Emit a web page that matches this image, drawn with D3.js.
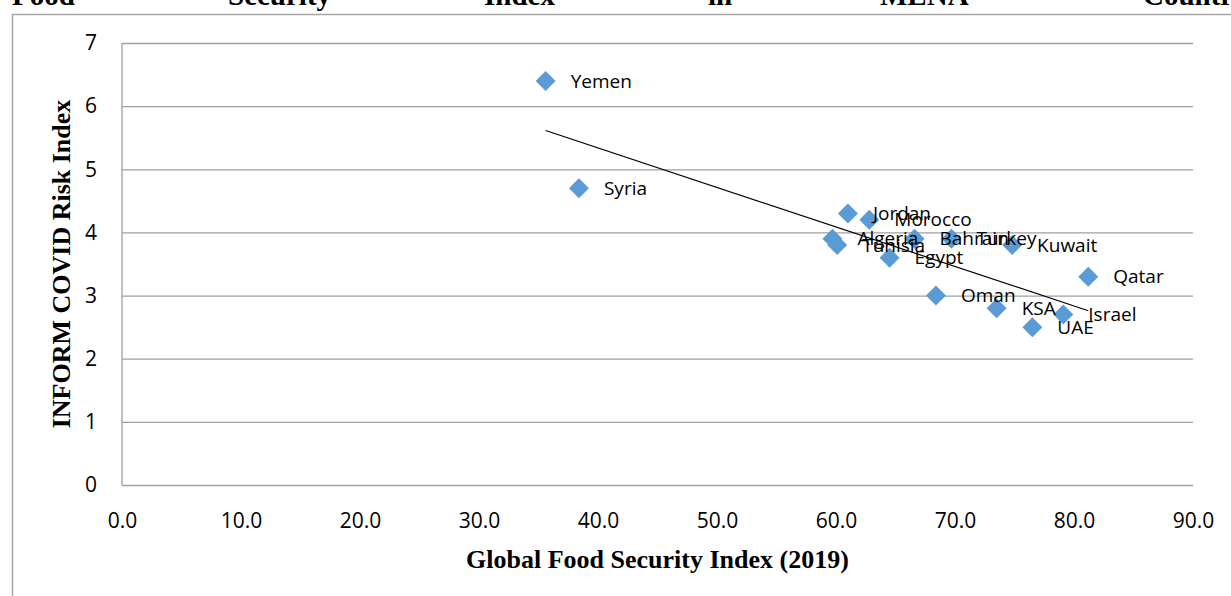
<!DOCTYPE html>
<html>
<head>
<meta charset="utf-8">
<script src="https://cdn.jsdelivr.net/npm/d3@7"></script>
<style>
  body { margin: 0; background: #fff; }
  svg { display: block; }
</style>
</head>
<body>
<div id="chart"></div>
<script>
const width = 1231
const height = 596

// title words (justified across the page, top half cut off)
const titleWords = ['Food', 'Security', 'Index', 'in', 'MENA', 'Countries']
const titleX = [12, 228, 484, 708, 880, 1143]

const countries = ['Yemen', 'Syria', 'Jordan', 'Morocco', 'Algeria', 'Tunisia', 'Egypt',
  'Bahrain', 'Turkey', 'Kuwait', 'Qatar', 'Oman', 'KSA', 'Israel', 'UAE']
const gfsi = [35.6, 38.4, 61.0, 62.8, 59.7, 60.1, 64.5, 66.6, 69.7, 74.8, 81.2, 68.4, 73.5, 79.1, 76.5]
const covidRisk = [6.4, 4.7, 4.3, 4.2, 3.9, 3.8, 3.6, 3.9, 3.9, 3.8, 3.3, 3.0, 2.8, 2.7, 2.5]

const xTicks = [0, 10, 20, 30, 40, 50, 60, 70, 80, 90]
const yTicks = [0, 1, 2, 3, 4, 5, 6, 7]

const margin = { left: 122, right: 38, top: 43, bottom: 111 }

const data = countries.map((c, i) => ({ name: c, x: gfsi[i], y: covidRisk[i] }))

const svg = d3.select('#chart')
  .append('svg')
  .attr('width', width)
  .attr('height', height)

const x = d3.scaleLinear().domain([0, 90]).range([margin.left, width - margin.right])
const y = d3.scaleLinear().domain([0, 7]).range([height - margin.bottom, margin.top])

// title, only the lower part shows
svg.selectAll('.title')
  .data(titleWords)
  .enter().append('text')
  .attr('class', 'title')
  .attr('x', (d, i) => titleX[i])
  .attr('y', 5)
  .attr('font-family', 'Liberation Serif, Times New Roman, serif')
  .attr('font-weight', 'bold')
  .attr('font-size', 29)
  .text(d => d)

// outer frame of the chart object
svg.append('path')
  .attr('d', `M12.5,${height} V14.5 H${width}`)
  .attr('fill', 'none')
  .attr('stroke', '#a6a6a6')
  .attr('stroke-width', 1.5)

// gridlines
svg.append('g')
  .attr('transform', `translate(${margin.left},0)`)
  .call(d3.axisLeft(y).tickValues(yTicks).tickSize(-(width - margin.left - margin.right)).tickFormat(d3.format('d')))
  .call(g => g.select('.domain').remove())
  .call(g => g.selectAll('.tick line').attr('stroke', '#a0a0a0').attr('stroke-width', 1.3))
  .call(g => g.selectAll('.tick text')
    .attr('x', -25)
    .attr('font-family', 'Open Sans, sans-serif')
    .attr('font-size', 21)
    .attr('fill', '#000'))

// left axis line
svg.append('line')
  .attr('x1', margin.left).attr('x2', margin.left)
  .attr('y1', y(7)).attr('y2', y(0))
  .attr('stroke', '#a0a0a0')
  .attr('stroke-width', 1.3)

svg.append('g')
  .attr('transform', `translate(0,${y(0)})`)
  .call(d3.axisBottom(x).tickValues(xTicks).tickSize(0).tickFormat(d3.format('.1f')))
  .call(g => g.select('.domain').remove())
  .call(g => g.selectAll('.tick text')
    .attr('y', 28)
    .attr('font-family', 'Open Sans, sans-serif')
    .attr('font-size', 21)
    .attr('fill', '#000'))

// linear trend line
const xm = d3.mean(gfsi)
const ym = d3.mean(covidRisk)
const slope = d3.sum(data, d => (d.x - xm) * (d.y - ym)) / d3.sum(data, d => (d.x - xm) ** 2)
const icpt = ym - slope * xm
const xMin = d3.min(gfsi)
const xMax = d3.max(gfsi)

svg.append('line')
  .attr('x1', x(xMin)).attr('y1', y(icpt + slope * xMin))
  .attr('x2', x(xMax)).attr('y2', y(icpt + slope * xMax))
  .attr('stroke', '#000')
  .attr('stroke-width', 1.2)

// markers
svg.selectAll('.pt')
  .data(data)
  .enter().append('path')
  .attr('class', 'pt')
  .attr('d', d3.symbol(d3.symbolSquare, 200))
  .attr('transform', d => `translate(${x(d.x)},${y(d.y)}) rotate(45)`)
  .attr('fill', '#5b9bd5')

svg.selectAll('.lbl')
  .data(data)
  .enter().append('text')
  .attr('class', 'lbl')
  .attr('x', d => x(d.x) + 25)
  .attr('y', d => y(d.y))
  .attr('dy', '0.35em')
  .attr('font-family', 'Open Sans, sans-serif')
  .attr('font-size', 19)
  .text(d => d.name)

// axis titles
svg.append('text')
  .attr('x', (x(0) + x(90)) / 2)
  .attr('y', 568)
  .attr('text-anchor', 'middle')
  .attr('font-family', 'Liberation Serif, Times New Roman, serif')
  .attr('font-weight', 'bold')
  .attr('font-size', 26)
  .text('Global Food Security Index (2019)')

svg.append('text')
  .attr('transform', `translate(70,${(y(0) + y(7)) / 2}) rotate(-90)`)
  .attr('text-anchor', 'middle')
  .attr('font-family', 'Liberation Serif, Times New Roman, serif')
  .attr('font-weight', 'bold')
  .attr('font-size', 26)
  .text('INFORM COVID Risk Index')
</script>
</body>
</html>
